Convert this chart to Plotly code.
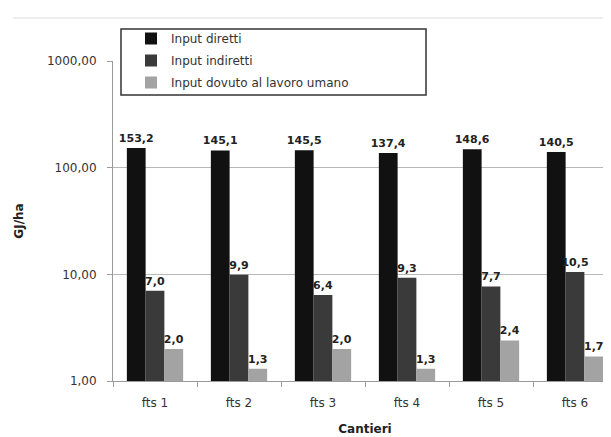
import plotly.graph_objects as go

categories = ["fts 1", "fts 2", "fts 3", "fts 4", "fts 5", "fts 6"]
input_diretti = [153.2, 145.1, 145.5, 137.4, 148.6, 140.5]
input_indiretti = [7.0, 9.9, 6.4, 9.3, 7.7, 10.5]
input_umano = [2.0, 1.3, 2.0, 1.3, 2.4, 1.7]
series_names = ["Input diretti", "Input indiretti", "Input dovuto al lavoro umano"]
series_colors = ["#111111", "#3a3a3a", "#a3a3a3"]
y_tickvals = [1, 10, 100, 1000]

W, H = 611, 437
L, R, T, B = 105, 2, 53, 64
PW, PH = W - L - R, H - T - B

def px(x):
    return (x - L) / PW

def py(y):
    return (H - B - y) / PH

FONT = "DejaVu Sans"

fig = go.Figure()
for i, (name, vals, col) in enumerate(zip(series_names, [input_diretti, input_indiretti, input_umano], series_colors)):
    fig.add_trace(go.Bar(
        x=categories, y=vals, name=name, legendgroup=f"g{i}",
        marker=dict(color=col, line=dict(width=0)),
        texttemplate="<b>%{y:.1f}</b>", textposition="outside",
        constraintext="none",
        textfont=dict(family=FONT, size=11, color="#222222"),
        cliponaxis=False,
    ))

fig.update_layout(
    width=W, height=H,
    margin=dict(l=L, r=R, t=T, b=B, autoexpand=False),
    paper_bgcolor="white", plot_bgcolor="white",
    separators=",.",
    barmode="group", bargap=0.33, bargroupgap=0,
    font=dict(family=FONT, size=12, color="#333333"),
    showlegend=True,
    legend=dict(
        x=px(123), y=py(16), xanchor="left", yanchor="top",
        bgcolor="rgba(0,0,0,0)", borderwidth=0,
        font=dict(family=FONT, size=12, color="#333333"),
        traceorder="grouped", tracegroupgap=3, itemclick=False,
    ),
    xaxis=dict(
        title=dict(text="<b>Cantieri</b>", font=dict(family=FONT, size=12, color="#222222"), standoff=15),
        showline=True, linecolor="#9a9a9a", linewidth=1,
        ticks="outside", ticklen=5, tickcolor="#9a9a9a", tickson="boundaries",
        tickfont=dict(family=FONT, size=12, color="#333333"),
        ticklabelstandoff=11,
        range=[-0.5, 5.5],
    ),
    yaxis=dict(
        type="log", range=[0, 3],
        title=dict(text="<b>GJ/ha</b>", font=dict(family=FONT, size=12, color="#222222"), standoff=20),
        tickvals=y_tickvals, tickformat=".2f",
        showgrid=True, gridcolor="#b8b8b8", gridwidth=1,
        showline=True, linecolor="#9a9a9a", linewidth=1,
        ticks="outside", ticklen=5, tickcolor="#9a9a9a",
        tickfont=dict(family=FONT, size=12, color="#333333"),
        ticklabelstandoff=8,
        zeroline=False,
    ),
    shapes=[
        dict(type="rect", xref="paper", yref="paper",
             x0=px(113), x1=px(418), y0=py(87), y1=py(21),
             line=dict(color="#333333", width=1.5), fillcolor="rgba(0,0,0,0)", layer="above"),
        dict(type="line", xref="paper", yref="paper",
             x0=px(5), x1=px(611), y0=py(10), y1=py(10),
             line=dict(color="#dddddd", width=1)),
    ],
)

fig.write_html("out.html")
